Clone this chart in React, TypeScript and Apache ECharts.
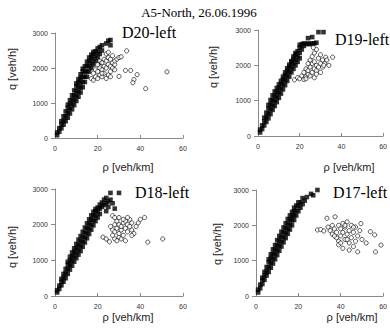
import React, { useEffect, useRef } from "react";
import * as echarts from "echarts";

// ---------- data ----------
const titleText = "A5-North, 26.06.1996";
const panelNames = ["D20-left", "D19-left", "D18-left", "D17-left"];
const xTicks = [0, 20, 40, 60];
const yTicks = [0, 1000, 2000, 3000];
const xTitle = "ρ [veh/km]";
const yTitle = "q [veh/h]";

// free-flow (filled squares): [density, flows at that density]
const d20Free: [number, number[]][] = [
  [1, [80, 160]], [2, [180, 280]], [3, [280, 400, 480]], [4, [380, 500, 620]],
  [5, [480, 620, 760]], [6, [580, 720, 860, 950]], [7, [700, 840, 980, 1080]],
  [8, [820, 960, 1100, 1220]], [9, [940, 1080, 1220, 1360]],
  [10, [1060, 1200, 1340, 1480, 1560]], [11, [1180, 1320, 1460, 1600, 1680]],
  [12, [1300, 1440, 1580, 1720, 1820]], [13, [1450, 1600, 1750, 1900, 1980]],
  [14, [1600, 1750, 1900, 2050]], [15, [1750, 1900, 2050, 2180]],
  [16, [1900, 2050, 2200, 2300]], [17, [2000, 2150, 2300, 2380]],
  [18, [2100, 2250, 2400, 2460]], [19, [2200, 2350, 2480]], [20, [2300, 2450, 2560]],
  [21, [2150, 2400, 2600]], [22, [2500, 2650]], [24, [2700]], [25, [2780]], [26, [2800, 2650]],
];
const d19Free: [number, number[]][] = [
  [1, [100, 180]], [2, [200, 300]], [3, [300, 420, 520]], [4, [400, 540, 660]],
  [5, [500, 640, 780, 880]], [6, [620, 760, 900, 1020]], [7, [740, 880, 1020, 1150]],
  [8, [850, 1000, 1140, 1260]], [9, [960, 1100, 1240, 1360]], [10, [1080, 1220, 1360, 1460]],
  [11, [1200, 1340, 1480, 1560]], [12, [1320, 1460, 1600, 1680]], [13, [1440, 1580, 1720, 1800]],
  [14, [1560, 1700, 1840, 1920]], [15, [1680, 1820, 1960, 2020]], [16, [1800, 1940, 2080, 2120]],
  [17, [1900, 2050, 2180, 2250]], [18, [2000, 2150, 2300, 2350]], [19, [2100, 2250, 2400]],
  [20, [2200, 2350, 2500, 2580]], [21, [2450, 2600]], [22, [2550, 2620]], [23, [2600]],
  [24, [2770, 2620]], [25, [2600]], [26, [2800, 2620]], [27, [2620]], [28, [2640]],
  [27.3, [3030]], [29, [2940]], [31.4, [2940]],
];
const d18Free: [number, number[]][] = [
  [1, [100, 160]], [2, [200, 290]], [3, [300, 400, 480]], [4, [400, 520, 620]],
  [5, [500, 640, 760]], [6, [620, 760, 880, 960]], [7, [740, 880, 1000, 1100]],
  [8, [850, 990, 1120, 1220]], [9, [960, 1100, 1240, 1340]], [10, [1060, 1200, 1340, 1460]],
  [11, [1160, 1300, 1440, 1580]], [12, [1260, 1400, 1540, 1680]], [13, [1380, 1520, 1660, 1800]],
  [14, [1500, 1640, 1780, 1920]], [15, [1620, 1760, 1900, 2040]], [16, [1740, 1880, 2020, 2150]],
  [17, [1860, 2000, 2140, 2260]], [18, [1980, 2120, 2260, 2360]], [19, [2100, 2240, 2380, 2440]],
  [20, [2200, 2350, 2480]], [21, [2300, 2450, 2560]], [22, [2500, 2620]], [23, [2550, 2700]],
  [24, [2380, 2600, 2750]], [25, [2650, 2500]], [26, [2890, 2700]], [27, [2600]], [28, [2450]],
  [30, [2890]],
];
const d17Free: [number, number[]][] = [
  [1, [100, 180]], [2, [220, 320]], [3, [340, 450, 520]], [4, [460, 580, 680]],
  [5, [580, 700, 820]], [6, [680, 820, 960, 1040]], [7, [800, 940, 1080, 1180]],
  [8, [920, 1060, 1200, 1320]], [9, [1040, 1180, 1320, 1440]], [10, [1160, 1300, 1440, 1580]],
  [11, [1280, 1420, 1560, 1700]], [12, [1400, 1540, 1680, 1820]], [13, [1520, 1660, 1800, 1940]],
  [14, [1640, 1780, 1920, 2060]], [15, [1760, 1900, 2040, 2180]], [16, [1880, 2020, 2160, 2280]],
  [17, [2000, 2140, 2260, 2380]], [18, [2150, 2280, 2400, 2500]], [19, [2280, 2420, 2560]],
  [20, [2400, 2550, 2650]], [21, [2500, 2650]], [22, [2600, 2770]], [23, [2700]], [24, [2800]],
  [26, [2890]], [27, [2850]], [29, [3000]],
];

// congested (open circles): [density, flow]
const d20Cong: [number, number][] = [
  [17, 1700], [18, 1650], [19, 1750], [20, 1700], [21, 1800], [22, 1750], [23, 1850], [24, 1700],
  [25, 1800], [26, 1900], [18, 1850], [19, 1950], [20, 1900], [21, 2000], [22, 1950], [23, 2050],
  [24, 2000], [25, 2100], [26, 2050], [27, 2150], [20, 2100], [21, 2200], [22, 2150], [23, 2250],
  [24, 2200], [25, 2300], [26, 2250], [27, 2000], [28, 2100], [24, 2400], [25, 2450], [28, 2200],
  [29, 2250], [22, 1850], [26, 1750], [27, 2350], [30, 2300], [28, 1950], [33.6, 2490], [31, 2320],
  [33, 1930], [30, 1760], [35.5, 1930], [37, 1670], [36.5, 1580], [38.5, 1810], [42.5, 1410], [52.5, 1890],
];
const d19Cong: [number, number][] = [
  [17.5, 1590], [19, 1650], [20, 1620], [21, 1700], [22, 1600], [23, 1680], [24, 1750], [22, 1800],
  [23, 1900], [24, 1850], [25, 1950], [26, 1800], [27, 1900], [28, 2000], [25, 1700], [26, 2050],
  [27, 2100], [28, 1850], [29, 1950], [30, 2050], [31, 2150], [29, 2200], [30, 1800], [31, 1950],
  [32, 2050], [24, 2050], [25, 2150], [26, 2250], [27, 2350], [28, 2450], [26.5, 2500], [32.5, 2230],
  [33, 2150], [34, 2000], [35.8, 2230], [27, 1650], [28, 1750], [23, 1620], [30, 2300], [31.5, 2000],
];
const d18Cong: [number, number][] = [
  [22.5, 1650], [24, 1600], [25.5, 1520], [27, 1700], [28, 1600], [29, 1550], [30, 1650], [27, 1850],
  [28, 1800], [29, 1900], [30, 1750], [31, 1850], [32, 1700], [28, 2000], [29, 2100], [30, 2000],
  [31, 1950], [32, 2050], [33, 1900], [34, 1800], [33, 2100], [34, 2000], [35, 1950], [36, 1850],
  [37, 1750], [35, 2150], [36, 2050], [38, 1950], [39, 2050], [40, 2150], [42, 2200], [27, 2250],
  [28, 2200], [30, 2200], [32, 2150], [34, 2200], [31, 1600], [36, 1700], [43.5, 1510], [50.5, 1600],
  [26, 1950], [33, 1550],
];
const d17Cong: [number, number][] = [
  [29, 1870], [30.5, 1880], [32, 1840], [33.5, 2200], [37.3, 2240], [34, 1950], [35, 1850], [36, 1750],
  [36, 2000], [37, 1900], [38, 1800], [38, 1650], [39, 2000], [39, 1550], [40, 1900], [40, 1700],
  [41, 2050], [41, 1800], [42, 1600], [42, 1950], [43, 2100], [43, 1750], [44, 1850], [44, 1500],
  [45, 2000], [45, 1650], [46, 1800], [46, 1400], [47, 1950], [47, 1550], [48, 1700], [48, 1250],
  [49, 1850], [49.5, 2050], [50, 1600], [41, 1350], [44, 1300], [37, 1700], [39, 1450], [42, 2000],
  [46, 1950], [52, 1500], [54, 1820], [56, 1730], [56.4, 1250], [59, 1440], [40, 1500], [43, 1600],
];

const freeSets = [d20Free, d19Free, d18Free, d17Free];
const congSets = [d20Cong, d19Cong, d18Cong, d17Cong];

// ---------- layout ----------
const grids = [
  { left: 55, top: 33, width: 128, height: 105 },
  { left: 258, top: 30, width: 132, height: 106 },
  { left: 55, top: 189, width: 128, height: 107 },
  { left: 256, top: 190, width: 132, height: 106 },
];
const nameLabelPos = [
  { x: 122, y: 32 },
  { x: 335, y: 39 },
  { x: 135, y: 192 },
  { x: 333, y: 192 },
];
const yTitlePos = [
  { x: 12, y: 69 },
  { x: 213, y: 67 },
  { x: 12, y: 247 },
  { x: 217, y: 244 },
];
const xTitlePos = [
  { x: 128, y: 167 },
  { x: 349, y: 167 },
  { x: 128, y: 317 },
  { x: 352, y: 317 },
];

const sans = "'Liberation Sans', Arial, sans-serif";
const serif = "'Liberation Serif', 'Times New Roman', serif";

export default function App() {
  const ref = useRef<HTMLDivElement>(null);
  useEffect(() => {
    if (!ref.current) return;
    const chart = echarts.init(ref.current, undefined, { renderer: "svg" });
    const xAxes = grids.map((_, i) => ({
      type: "value",
      gridIndex: i,
      min: xTicks[0],
      max: xTicks[xTicks.length - 1],
      interval: 20,
      splitLine: { show: false },
      axisLine: { show: true, lineStyle: { color: "#8a8a8a", width: 1 } },
      axisTick: { show: true, inside: true, length: 3, lineStyle: { color: "#8a8a8a" } },
      axisLabel: { fontSize: 7, color: "#333", fontFamily: sans, margin: 7 },
    }));
    const yAxes = grids.map((_, i) => ({
      type: "value",
      gridIndex: i,
      min: yTicks[0],
      max: yTicks[yTicks.length - 1],
      interval: 1000,
      splitLine: { show: false },
      axisLine: { show: true, lineStyle: { color: "#8a8a8a", width: 1 } },
      axisTick: { show: true, inside: false, length: 4, lineStyle: { color: "#8a8a8a" } },
      axisLabel: {
        fontSize: 7,
        color: "#333",
        fontFamily: sans,
        margin: 7,
        formatter: (v: number) => String(v),
      },
    }));
    const series: any[] = [];
    freeSets.forEach((set, i) => {
      const pts = set.flatMap(([rho, qs]) => qs.map((q) => [rho, q]));
      series.push({
        type: "scatter",
        xAxisIndex: i,
        yAxisIndex: i,
        data: pts,
        symbol: "rect",
        symbolSize: 4.6,
        itemStyle: { color: "#000" },
        silent: true,
      });
    });
    congSets.forEach((set, i) => {
      series.push({
        type: "scatter",
        xAxisIndex: i,
        yAxisIndex: i,
        data: set,
        symbol: "circle",
        symbolSize: 4.2,
        itemStyle: { color: "#fff", borderColor: "#000", borderWidth: 0.8 },
        silent: true,
      });
    });
    const graphic: any[] = [
      {
        type: "text",
        x: 199,
        y: 12,
        style: {
          text: titleText,
          font: `13px ${serif}`,
          fill: "#000",
          align: "center",
          verticalAlign: "middle",
        },
      },
    ];
    panelNames.forEach((nm, i) => {
      graphic.push({
        type: "text",
        x: nameLabelPos[i].x,
        y: nameLabelPos[i].y,
        style: { text: nm, font: `16px ${serif}`, fill: "#000", align: "left", verticalAlign: "middle" },
      });
      graphic.push({
        type: "text",
        x: yTitlePos[i].x,
        y: yTitlePos[i].y,
        rotation: Math.PI / 2,
        style: { text: yTitle, font: `11px ${sans}`, fill: "#222", align: "center", verticalAlign: "middle" },
      });
      graphic.push({
        type: "text",
        x: xTitlePos[i].x,
        y: xTitlePos[i].y,
        style: { text: xTitle, font: `11px ${sans}`, fill: "#222", align: "center", verticalAlign: "middle" },
      });
    });
    chart.setOption({
      animation: false,
      backgroundColor: "#fff",
      grid: grids,
      xAxis: xAxes,
      yAxis: yAxes,
      series,
      graphic,
    });
    return () => chart.dispose();
  }, []);
  return (
    <div
      ref={ref}
      style={{ position: "absolute", left: 0, top: 0, width: 390, height: 331 }}
    />
  );
}
